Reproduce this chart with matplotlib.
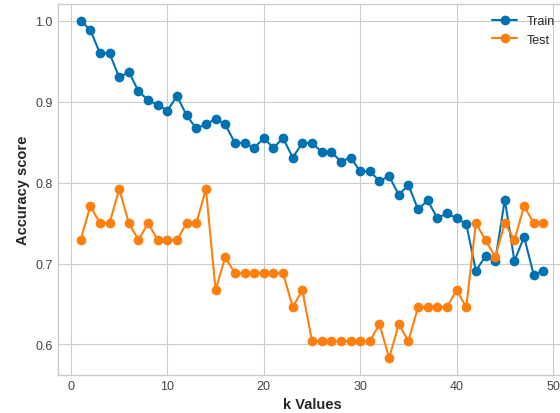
import matplotlib
matplotlib.use('Agg')
import matplotlib.pyplot as plt

k_values = list(range(1, 50))

train_scores = [1.000, 0.989, 0.960, 0.960, 0.930, 0.937, 0.913, 0.902, 0.896, 0.889,
                0.907, 0.883, 0.867, 0.872, 0.879, 0.872, 0.849, 0.849, 0.843, 0.855,
                0.843, 0.855, 0.831, 0.849, 0.849, 0.838, 0.838, 0.826, 0.831, 0.814,
                0.814, 0.802, 0.808, 0.785, 0.797, 0.767, 0.778, 0.756, 0.762, 0.756,
                0.749, 0.691, 0.709, 0.703, 0.779, 0.703, 0.733, 0.686, 0.691]

test_scores = [0.729, 0.771, 0.750, 0.750, 0.792, 0.750, 0.729, 0.750, 0.729, 0.729,
               0.729, 0.750, 0.750, 0.792, 0.667, 0.708, 0.688, 0.688, 0.688, 0.688,
               0.688, 0.688, 0.646, 0.667, 0.604, 0.604, 0.604, 0.604, 0.604, 0.604,
               0.604, 0.625, 0.583, 0.625, 0.604, 0.646, 0.646, 0.646, 0.646, 0.667,
               0.646, 0.750, 0.729, 0.708, 0.750, 0.729, 0.771, 0.750, 0.750]

plt.style.use('seaborn-v0_8-whitegrid')

fig = plt.figure(figsize=(5.6, 4.14), dpi=100)
# axes run a little past the right edge, like the cropped original
ax = fig.add_axes([57.5 / 560, 38 / 414, 509 / 560, 371 / 414])

ax.plot(k_values, train_scores, marker='o', color='#0072B2', linewidth=1.5, label='Train')
ax.plot(k_values, test_scores, marker='o', color='#ff7f0e', linewidth=1.5, label='Test')

ax.set_xlabel('k Values', fontsize=10.5, fontweight='bold')
ax.set_ylabel('Accuracy score', fontsize=10.5, fontweight='bold')
ax.tick_params(labelsize=9, colors='#444444')
ax.legend(loc='upper right', fontsize=9)

fig.savefig('out.png', dpi=100)
